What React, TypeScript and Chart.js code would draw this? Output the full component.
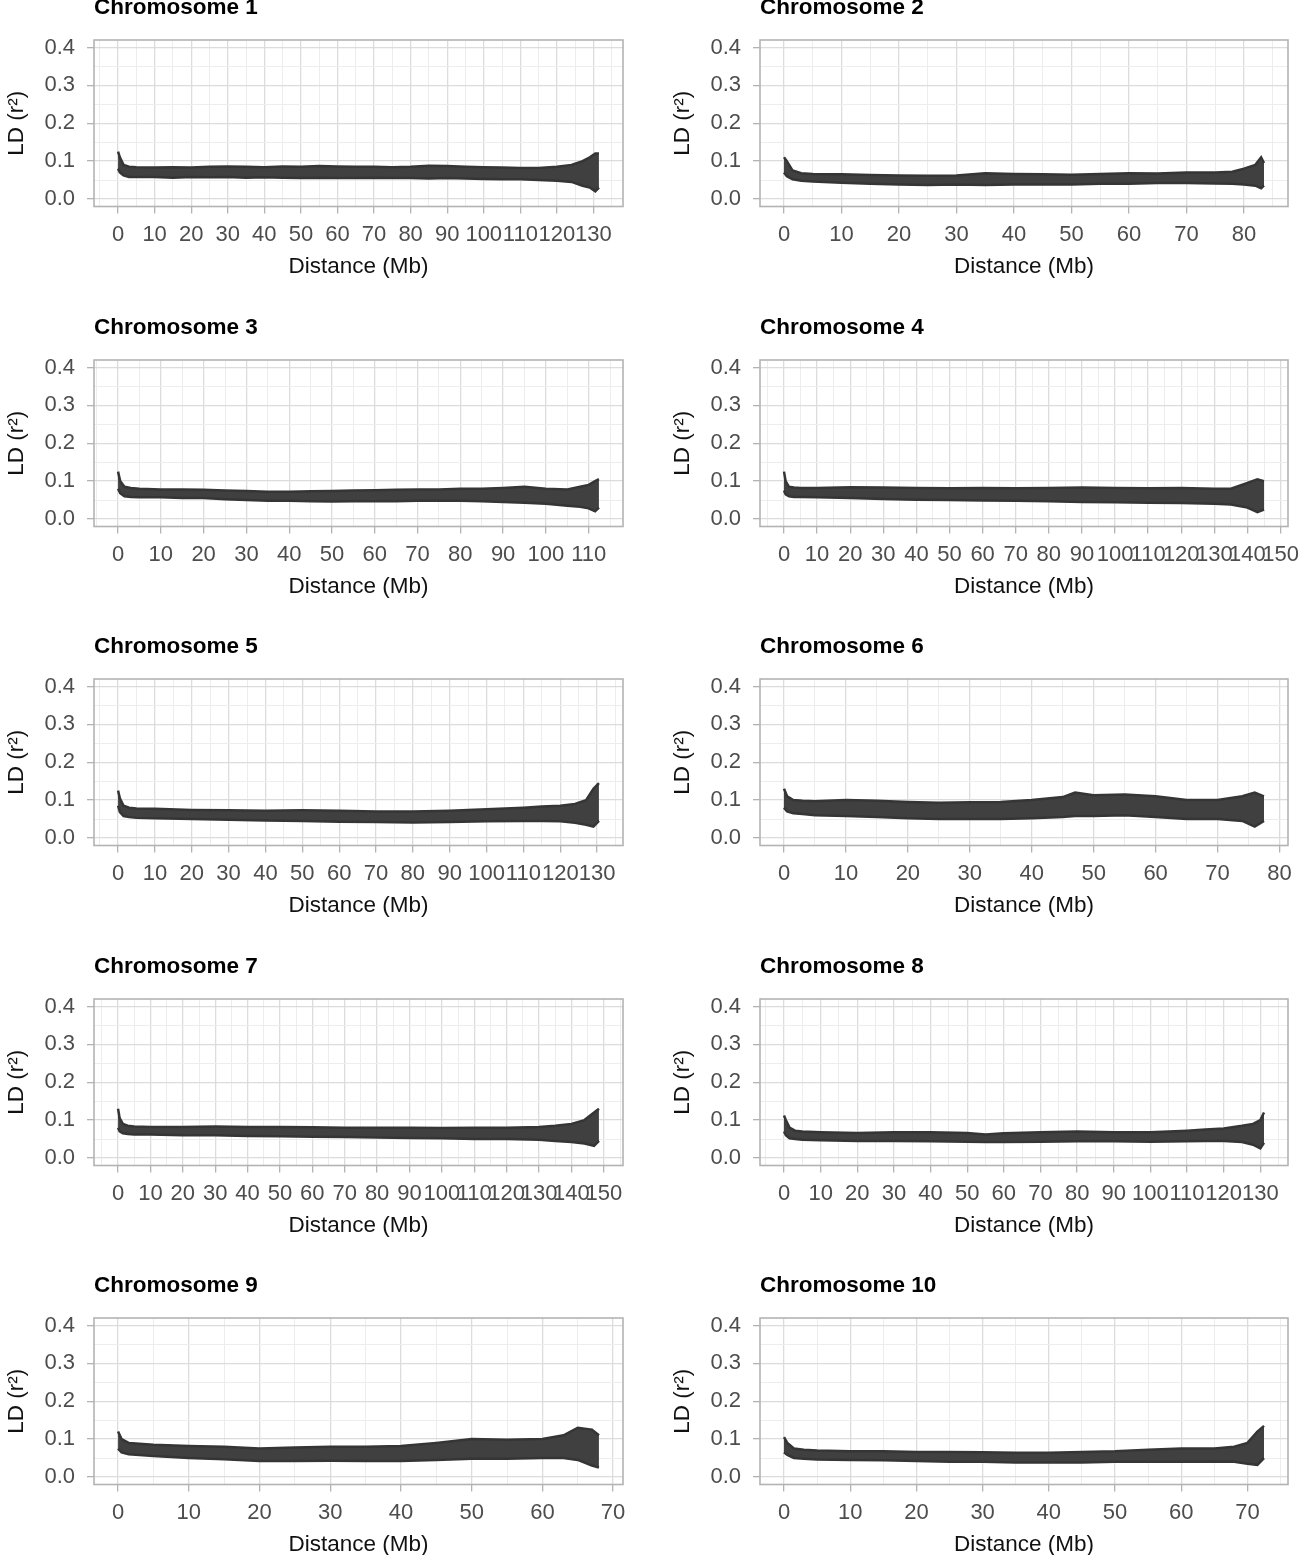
import { useEffect, useRef } from 'react'
import { Chart, registerables } from 'chart.js'

Chart.register(...registerables)
Chart.defaults.font.family = '"Liberation Sans", Arial, sans-serif'

// LD band per chromosome: distance (Mb), upper and lower edge of the r2 cloud
const chr1Pos = [0, 0.5, 1.5, 3, 5, 10, 15, 20, 25, 30, 35, 40, 45, 50, 55, 60, 65, 70, 75, 80, 85, 90, 95, 100, 105, 110, 115, 120, 124, 127, 129, 130.5, 131.5]
const chr1Upper = [0.125, 0.11, 0.09, 0.085, 0.084, 0.083, 0.084, 0.083, 0.085, 0.086, 0.085, 0.084, 0.086, 0.085, 0.087, 0.086, 0.085, 0.085, 0.084, 0.085, 0.088, 0.087, 0.085, 0.084, 0.083, 0.082, 0.082, 0.085, 0.09, 0.1, 0.11, 0.12, 0.12]
const chr1Lower = [0.08, 0.07, 0.062, 0.058, 0.058, 0.058, 0.056, 0.058, 0.057, 0.058, 0.056, 0.057, 0.056, 0.055, 0.056, 0.055, 0.055, 0.056, 0.055, 0.055, 0.054, 0.055, 0.054, 0.053, 0.052, 0.052, 0.05, 0.048, 0.045, 0.035, 0.03, 0.02, 0.03]

const chr2Pos = [0, 0.5, 1.5, 3, 5, 10, 15, 20, 25, 30, 35, 40, 45, 50, 55, 60, 65, 70, 75, 78, 80, 82, 83, 83.5]
const chr2Upper = [0.11, 0.1, 0.075, 0.068, 0.066, 0.065, 0.063, 0.062, 0.061, 0.062, 0.068, 0.066, 0.065, 0.064, 0.066, 0.068, 0.067, 0.07, 0.07, 0.072, 0.08, 0.09, 0.11, 0.095]
const chr2Lower = [0.07, 0.06, 0.052, 0.048, 0.046, 0.043, 0.04, 0.038, 0.037, 0.038, 0.037, 0.038, 0.038, 0.038, 0.04, 0.04, 0.042, 0.042, 0.041, 0.04, 0.038, 0.035, 0.028, 0.035]

const chr3Pos = [0, 0.5, 1.5, 3, 5, 10, 15, 20, 25, 30, 35, 40, 45, 50, 55, 60, 65, 70, 75, 80, 85, 90, 95, 100, 105, 108, 110, 111.5, 112.4]
const chr3Upper = [0.125, 0.1, 0.085, 0.082, 0.08, 0.078, 0.078, 0.077, 0.075, 0.074, 0.072, 0.072, 0.073, 0.074, 0.075, 0.076, 0.077, 0.078, 0.078, 0.08, 0.08, 0.082, 0.085, 0.08, 0.078, 0.085, 0.09, 0.1, 0.105]
const chr3Lower = [0.08, 0.068, 0.06, 0.058, 0.057, 0.057, 0.055, 0.055, 0.052, 0.05, 0.048, 0.048, 0.047, 0.046, 0.047, 0.047, 0.047, 0.048, 0.048, 0.048, 0.047, 0.045, 0.043, 0.04, 0.035, 0.032, 0.028, 0.02, 0.03]

const chr4Pos = [0, 0.5, 1.5, 3, 5, 10, 20, 30, 40, 50, 60, 70, 80, 90, 100, 110, 120, 130, 135, 140, 143, 145]
const chr4Upper = [0.125, 0.1, 0.085, 0.083, 0.082, 0.082, 0.084, 0.083, 0.082, 0.081, 0.082, 0.081, 0.082, 0.083, 0.082, 0.081, 0.082, 0.08, 0.08, 0.095, 0.105, 0.1]
const chr4Lower = [0.075, 0.065, 0.06, 0.058, 0.058, 0.057, 0.055, 0.053, 0.051, 0.05, 0.049, 0.048, 0.047, 0.045, 0.044, 0.043, 0.042, 0.04, 0.038, 0.03, 0.018, 0.025]

const chr5Pos = [0, 0.5, 1.5, 3, 5, 10, 20, 30, 40, 50, 60, 70, 80, 90, 100, 110, 115, 120, 124, 127, 129, 130.5]
const chr5Upper = [0.125, 0.105, 0.085, 0.08, 0.078, 0.077, 0.074, 0.073, 0.072, 0.073, 0.072, 0.07, 0.07, 0.072, 0.076, 0.08, 0.083, 0.085, 0.09, 0.1, 0.13, 0.145]
const chr5Lower = [0.085, 0.068, 0.058, 0.055, 0.053, 0.052, 0.05, 0.048, 0.046, 0.045, 0.043, 0.042, 0.041, 0.042, 0.044, 0.045, 0.045, 0.044, 0.04, 0.035, 0.03, 0.045]

const chr6Pos = [0, 0.5, 1.5, 3, 5, 10, 15, 20, 25, 30, 35, 40, 45, 47, 50, 55, 60, 65, 70, 74, 76, 77.5]
const chr6Upper = [0.13, 0.11, 0.1, 0.098, 0.097, 0.1, 0.098, 0.095, 0.093, 0.094, 0.095, 0.1, 0.108, 0.12, 0.113, 0.115, 0.11, 0.1, 0.1, 0.11, 0.12, 0.11]
const chr6Lower = [0.08, 0.07, 0.065, 0.063, 0.06, 0.058, 0.055, 0.052, 0.05, 0.05, 0.05, 0.052, 0.055, 0.058, 0.058, 0.06, 0.055, 0.05, 0.05, 0.045, 0.03, 0.045]

const chr7Pos = [0, 0.5, 1.5, 3, 5, 10, 20, 30, 40, 50, 60, 70, 80, 90, 100, 110, 120, 130, 135, 140, 144, 147, 148.5]
const chr7Upper = [0.13, 0.105, 0.09, 0.085, 0.083, 0.082, 0.082, 0.083, 0.082, 0.082, 0.081, 0.08, 0.08, 0.08, 0.079, 0.08, 0.08, 0.082, 0.085, 0.09, 0.1, 0.12, 0.13]
const chr7Lower = [0.08, 0.07, 0.065, 0.063, 0.062, 0.062, 0.06, 0.06, 0.058, 0.057, 0.056, 0.055, 0.054, 0.053, 0.052, 0.05, 0.05, 0.048, 0.045, 0.042, 0.038, 0.032, 0.045]

const chr8Pos = [0, 0.5, 1.5, 3, 5, 10, 20, 30, 40, 50, 55, 60, 70, 80, 90, 100, 110, 115, 120, 125, 128, 130, 131]
const chr8Upper = [0.112, 0.1, 0.08, 0.072, 0.07, 0.068, 0.066, 0.068, 0.068, 0.066, 0.062, 0.065, 0.068, 0.07, 0.068, 0.068, 0.072, 0.075, 0.078, 0.085, 0.09, 0.1, 0.12]
const chr8Lower = [0.07, 0.06, 0.052, 0.05, 0.048, 0.047, 0.045, 0.045, 0.044, 0.043, 0.042, 0.042, 0.043, 0.044, 0.044, 0.043, 0.044, 0.045, 0.045, 0.042, 0.035, 0.025, 0.04]

const chr9Pos = [0, 0.5, 1.5, 3, 5, 10, 15, 20, 25, 30, 35, 40, 45, 50, 55, 60, 63, 65, 67, 68]
const chr9Upper = [0.12, 0.1, 0.09, 0.088, 0.085, 0.082, 0.08, 0.075, 0.078, 0.08, 0.08, 0.082, 0.09, 0.1, 0.098, 0.1, 0.11, 0.13, 0.125, 0.11]
const chr9Lower = [0.075, 0.065, 0.06, 0.058, 0.055, 0.05, 0.047, 0.042, 0.042, 0.043, 0.042, 0.042, 0.045, 0.048, 0.048, 0.05, 0.05, 0.045, 0.03, 0.025]

const chr10Pos = [0, 0.5, 1.5, 3, 5, 10, 15, 20, 25, 30, 35, 40, 45, 50, 55, 60, 65, 68, 70, 71.5, 72.5]
const chr10Upper = [0.105, 0.09, 0.075, 0.072, 0.07, 0.068, 0.068, 0.066, 0.066, 0.065, 0.064, 0.064, 0.066, 0.068, 0.072, 0.075, 0.075, 0.08, 0.09, 0.12, 0.135]
const chr10Lower = [0.065, 0.058, 0.05, 0.048, 0.046, 0.045, 0.044, 0.042, 0.04, 0.04, 0.038, 0.038, 0.038, 0.04, 0.04, 0.04, 0.041, 0.04, 0.035, 0.032, 0.05]

const yTickValues = [0, 0.1, 0.2, 0.3, 0.4]

interface Panel {
  title: string
  pos: number[]
  upper: number[]
  lower: number[]
}

const panels: Panel[] = [
  { title: 'Chromosome 1', pos: chr1Pos, upper: chr1Upper, lower: chr1Lower },
  { title: 'Chromosome 2', pos: chr2Pos, upper: chr2Upper, lower: chr2Lower },
  { title: 'Chromosome 3', pos: chr3Pos, upper: chr3Upper, lower: chr3Lower },
  { title: 'Chromosome 4', pos: chr4Pos, upper: chr4Upper, lower: chr4Lower },
  { title: 'Chromosome 5', pos: chr5Pos, upper: chr5Upper, lower: chr5Lower },
  { title: 'Chromosome 6', pos: chr6Pos, upper: chr6Upper, lower: chr6Lower },
  { title: 'Chromosome 7', pos: chr7Pos, upper: chr7Upper, lower: chr7Lower },
  { title: 'Chromosome 8', pos: chr8Pos, upper: chr8Upper, lower: chr8Lower },
  { title: 'Chromosome 9', pos: chr9Pos, upper: chr9Upper, lower: chr9Lower },
  { title: 'Chromosome 10', pos: chr10Pos, upper: chr10Upper, lower: chr10Lower }
]

const GRID_MAJOR = '#DCDCDC'
const GRID_MINOR = '#EDEDED'
const FRAME = '#B3B3B3'
const POINTS = '#404040'

function isMultiple(v: number, step: number) {
  return Math.abs(v / step - Math.round(v / step)) < 1e-6
}

function isYMajor(v: number) {
  return yTickValues.some((t) => Math.abs(t - v) < 1e-6)
}

// every half break (major + minor grid, ggplot style)
function stepTicks(min: number, max: number, step: number) {
  const out: { value: number }[] = []
  for (let k = Math.ceil(min / step - 1e-9); k * step <= max + 1e-9; k++) {
    out.push({ value: Math.round(k * step * 1000) / 1000 })
  }
  return out
}

const framePlugin = {
  id: 'panelFrame',
  afterDraw(chart: Chart) {
    const { ctx, chartArea } = chart
    ctx.save()
    ctx.strokeStyle = FRAME
    ctx.lineWidth = 1.6
    ctx.strokeRect(chartArea.left, chartArea.top, chartArea.right - chartArea.left, chartArea.bottom - chartArea.top)
    ctx.restore()
  }
}

function LDPanel({ panel, left, top, width, rightPad }: { panel: Panel; left: number; top: number; width: number; rightPad: number }) {
  const chartRef = useRef<HTMLCanvasElement | null>(null)
  const chartInstance = useRef<Chart | null>(null)

  useEffect(() => {
    if (chartInstance.current) chartInstance.current.destroy()
    const ctx = chartRef.current?.getContext('2d')
    if (!ctx) return

    const span = panel.pos[panel.pos.length - 1] - panel.pos[0]
    const xMin = panel.pos[0] - span * 0.05
    const xMax = panel.pos[panel.pos.length - 1] + span * 0.05
    const ySpan = yTickValues[yTickValues.length - 1] - yTickValues[0]
    const yMin = yTickValues[0] - ySpan * 0.05
    const yMax = yTickValues[yTickValues.length - 1] + ySpan * 0.05

    chartInstance.current = new Chart(ctx, {
      type: 'line',
      data: {
        datasets: [
          {
            data: panel.pos.map((x, i) => ({ x, y: panel.lower[i] })),
            borderColor: '#353535',
            borderWidth: 2.5,
            pointRadius: 0,
            fill: false,
            tension: 0
          },
          {
            data: panel.pos.map((x, i) => ({ x, y: panel.upper[i] })),
            borderColor: '#353535',
            borderWidth: 2.5,
            backgroundColor: POINTS,
            pointRadius: 0,
            fill: '-1',
            tension: 0
          }
        ]
      },
      options: {
        animation: false,
        responsive: true,
        maintainAspectRatio: false,
        layout: { padding: { left: 0, right: rightPad, top: 0, bottom: 0 } },
        plugins: {
          legend: { display: false },
          tooltip: { enabled: false },
          title: {
            display: true,
            text: panel.title,
            align: 'start',
            fullSize: false,
            color: '#000',
            font: { size: 22.5, weight: 'bold' },
            padding: { top: 6.5, bottom: 18.5 }
          }
        },
        scales: {
          x: {
            type: 'linear',
            min: xMin,
            max: xMax,
            afterBuildTicks: (s: any) => {
              s.ticks = stepTicks(s.min, s.max, 5)
            },
            afterFit: (s: any) => {
              // let end labels run past the panel, as ggplot does
              s.paddingLeft = 0
              s.paddingRight = 0
            },
            ticks: {
              autoSkip: false,
              maxRotation: 0,
              minRotation: 0,
              padding: 10,
              color: '#4D4D4D',
              font: { size: 22, lineHeight: 1 },
              callback: (v: any) => (isMultiple(Number(v), 10) ? String(Math.round(Number(v))) : '')
            },
            grid: {
              color: (c: any) => (isMultiple(c.tick.value, 10) ? GRID_MAJOR : GRID_MINOR),
              lineWidth: (c: any) => (isMultiple(c.tick.value, 10) ? 1.3 : 1),
              tickLength: 7,
              tickColor: (c: any) => (isMultiple(c.tick.value, 10) ? FRAME : 'rgba(0,0,0,0)'),
              tickWidth: 1.3
            },
            border: { display: false },
            title: {
              display: true,
              text: 'Distance (Mb)',
              color: '#111',
              font: { size: 22.5 },
              padding: { top: -2, bottom: 27.5 }
            }
          },
          y: {
            type: 'linear',
            min: yMin,
            max: yMax,
            afterBuildTicks: (s: any) => {
              s.ticks = stepTicks(s.min, s.max, 0.05)
            },
            afterFit: (s: any) => {
              s.width = 94
            },
            ticks: {
              autoSkip: false,
              padding: 12,
              color: '#4D4D4D',
              font: { size: 22 },
              callback: (v: any) => (isYMajor(Number(v)) ? Number(v).toFixed(1) : '')
            },
            grid: {
              color: (c: any) => (isYMajor(c.tick.value) ? GRID_MAJOR : GRID_MINOR),
              lineWidth: (c: any) => (isYMajor(c.tick.value) ? 1.3 : 1),
              tickLength: 7,
              tickColor: (c: any) => (isYMajor(c.tick.value) ? FRAME : 'rgba(0,0,0,0)'),
              tickWidth: 1.3
            },
            border: { display: false },
            title: {
              display: true,
              text: 'LD (r²)',
              color: '#111',
              font: { size: 22.5 },
              padding: { top: 3.5, bottom: 0 }
            }
          }
        }
      },
      plugins: [framePlugin]
    })

    return () => {
      if (chartInstance.current) {
        chartInstance.current.destroy()
        chartInstance.current = null
      }
    }
  }, [panel, rightPad])

  return (
    <div style={{ position: 'absolute', left, top, width, height: 320 }}>
      <canvas ref={chartRef}></canvas>
    </div>
  )
}

export default function App() {
  return (
    <div style={{ position: 'absolute', left: 0, top: 0, width: 1300, height: 1555, overflow: 'hidden', background: '#fff' }}>
      {panels.map((p, i) => {
        const col = i % 2
        const row = Math.floor(i / 2)
        return (
          <LDPanel
            key={p.title}
            panel={p}
            left={col === 0 ? 0 : 666}
            top={Math.round(-12 + row * 319.5)}
            width={col === 0 ? 640 : 634}
            rightPad={col === 0 ? 17 : 12}
          />
        )
      })}
    </div>
  )
}
